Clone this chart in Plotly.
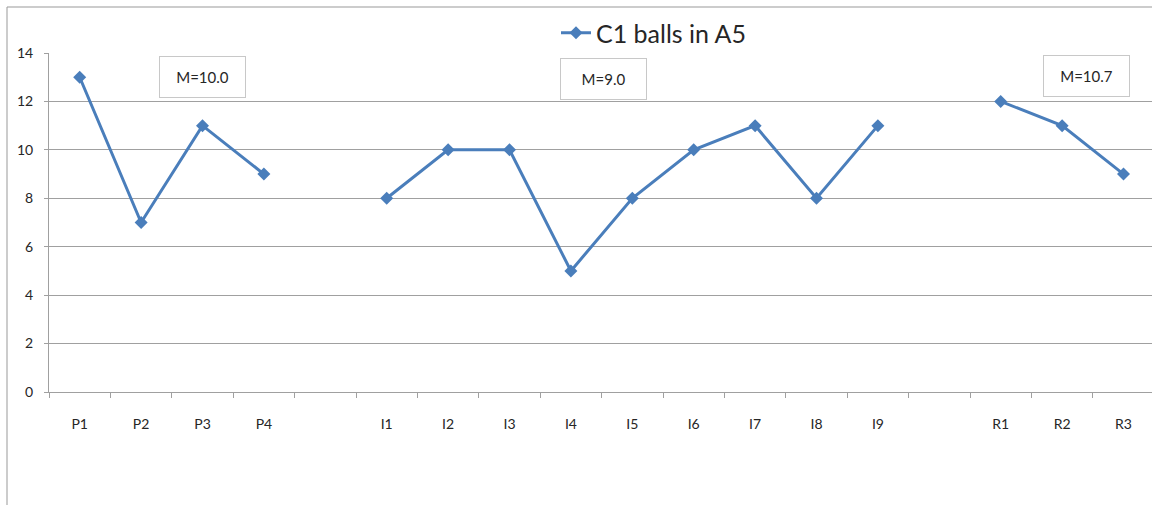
import plotly.graph_objects as go

categories = ["P1", "P2", "P3", "P4", " ",
              "I1", "I2", "I3", "I4", "I5", "I6", "I7", "I8", "I9", "  ",
              "R1", "R2", "R3"]
values = [13, 7, 11, 9, None,
          8, 10, 10, 5, 8, 10, 11, 8, 11, None,
          12, 11, 9]
series_name = "C1 balls in A5"
y_ticks = [0, 2, 4, 6, 8, 10, 12, 14]

groups = [values[0:4], values[5:14], values[15:18]]
means = [sum(g) / len(g) for g in groups]

W, H = 1152, 505
L, T, B = 49, 53, 113
PW = W - L
PH = H - T - B

def px_x(p):
    return (p - L) / PW

def px_y(p):
    return (H - B - p) / PH

FONT = "Lato, 'Open Sans', sans-serif"
BLUE = "#4a7ebb"
GRID = "#a0a0a0"
TXT = "#262626"

fig = go.Figure()
fig.add_trace(go.Scatter(
    x=categories, y=values, mode="lines+markers", name=series_name,
    connectgaps=False,
    line=dict(color=BLUE, width=3),
    marker=dict(symbol="diamond", size=10, color=BLUE),
    showlegend=True,
))

ann_pos = [(202, 77), (603, 79), (1086, 76)]
annotations = []
for (cx, cy), m in zip(ann_pos, means):
    annotations.append(dict(
        x=px_x(cx), y=px_y(cy), xref="paper", yref="paper",
        text=f"M={m:.1f}", showarrow=False,
        font=dict(family=FONT, size=15, color=TXT),
        bordercolor="#c8c8c8", borderwidth=1, borderpad=0,
        bgcolor="white", width=85, height=40,
        xanchor="center", yanchor="middle",
    ))

fig.update_layout(
    width=W, height=H,
    margin=dict(l=L, r=0, t=T, b=B, pad=0),
    paper_bgcolor="white", plot_bgcolor="white",
    font=dict(family=FONT, color=TXT),
    annotations=annotations,
    legend=dict(
        orientation="h", x=px_x(556), y=px_y(33),
        xanchor="left", yanchor="middle",
        font=dict(family=FONT, size=25, color=TXT),
        bgcolor="rgba(0,0,0,0)", borderwidth=0,
    ),
    shapes=[dict(
        type="rect", xref="paper", yref="paper",
        x0=px_x(7), y0=px_y(560), x1=px_x(1200), y1=px_y(7),
        line=dict(color="#999", width=1), fillcolor="rgba(0,0,0,0)",
        layer="below",
    )],
    xaxis=dict(
        type="category", categoryorder="array", categoryarray=categories,
        range=[-0.5, -0.5 + PW / 61.4],
        showgrid=False, zeroline=False,
        showline=True, linecolor=GRID, linewidth=1,
        ticks="outside", tickson="boundaries", ticklen=5, tickcolor=GRID,
        tickfont=dict(family=FONT, size=14, color=TXT),
        ticklabelstandoff=19,
    ),
    yaxis=dict(
        range=[0, 14], tickvals=y_ticks,
        showgrid=True, gridcolor=GRID, gridwidth=1,
        zeroline=False,
        showline=True, linecolor=GRID, linewidth=1,
        ticks="outside", ticklen=4, tickcolor=GRID,
        tickfont=dict(family=FONT, size=14, color=TXT),
        ticklabelstandoff=8,
    ),
)

fig.write_html("out.html", config={"displayModeBar": False},
               post_script="document.body.style.margin='0';")
